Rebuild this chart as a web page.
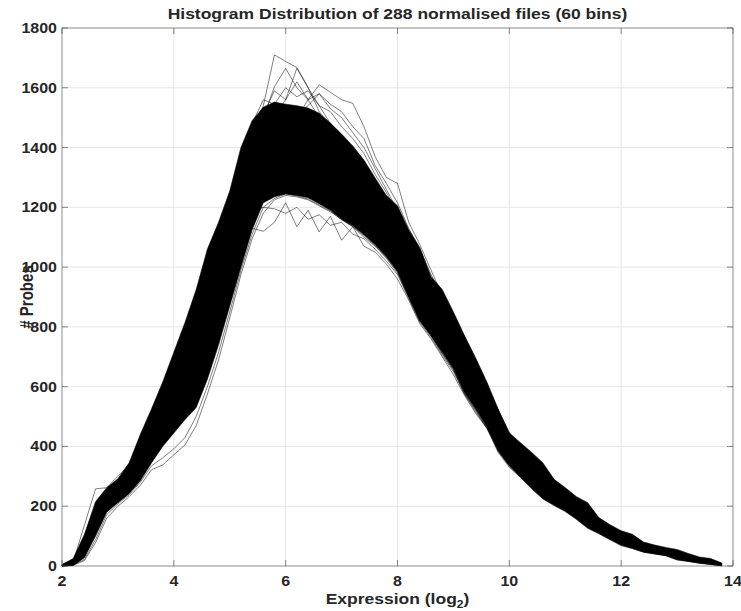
<!DOCTYPE html>
<html>
<head>
<meta charset="utf-8">
<script src="https://cdn.jsdelivr.net/npm/d3@7"></script>
<style>
  body { margin: 0; background: #fff; }
  svg { display: block; }
  text { font-family: "Liberation Sans", Arial, Helvetica, sans-serif; font-weight: bold; fill: #262626; }
</style>
</head>
<body>
<div id="chart"></div>
<script>
const width = 741;
const height = 611;
const margin = { top: 28, right: 8, bottom: 45, left: 62 };

// bin centres (log2 expression), 60 bins
const binCentres = [
  2.0, 2.2, 2.4, 2.6, 2.8, 3.0, 3.2, 3.4, 3.6, 3.8,
  4.0, 4.2, 4.4, 4.6, 4.8, 5.0, 5.2, 5.4, 5.6, 5.8,
  6.0, 6.2, 6.4, 6.6, 6.8, 7.0, 7.2, 7.4, 7.6, 7.8,
  8.0, 8.2, 8.4, 8.6, 8.8, 9.0, 9.2, 9.4, 9.6, 9.8,
  10.0, 10.2, 10.4, 10.6, 10.8, 11.0, 11.2, 11.4, 11.6, 11.8,
  12.0, 12.2, 12.4, 12.6, 12.8, 13.0, 13.2, 13.4, 13.6, 13.8
];

const xTicks = [2, 4, 6, 8, 10, 12, 14];
const yTicks = [0, 200, 400, 600, 800, 1000, 1200, 1400, 1600, 1800];

// dense bundle of the 288 curves: top and bottom edge per bin
const coreUpper = [
  5, 25, 105, 215, 262, 292, 345, 440, 525, 615,
  715, 815, 925, 1060, 1150, 1255, 1400, 1490, 1535, 1552,
  1545, 1540, 1532, 1515, 1482, 1445, 1405, 1358, 1298, 1240,
  1205, 1125, 1065, 968, 925, 850, 770, 695, 615, 525,
  445, 412, 380, 345, 290, 262, 232, 212, 162, 138,
  118, 106, 80, 70, 62, 55, 42, 30, 25, 10
];
const coreLower = [
  0, 2, 28, 100, 180, 212, 242, 285, 345, 400,
  445, 490, 530, 625, 740, 870, 1000, 1125, 1215, 1235,
  1245, 1240, 1232, 1212, 1190, 1160, 1138, 1108, 1075, 1035,
  985, 900, 820, 770, 715, 660, 580, 525, 465, 385,
  335, 298, 260, 226, 204, 184, 158, 128, 110, 90,
  70, 60, 47, 41, 35, 22, 16, 10, 6, 1
];

// single files that stand out of the bundle
const lineHighPeak = [
  0, 15, 80, 190, 240, 270, 310, 380, 460, 540,
  620, 720, 830, 960, 1090, 1210, 1340, 1450, 1540, 1710,
  1688, 1668, 1602, 1520, 1470, 1420, 1370, 1310, 1250, 1190,
  1120, 1040, 960, 880, 810, 740, 670, 600, 530, 465,
  405, 355, 315, 280, 245, 215, 190, 165, 140, 118,
  100, 86, 70, 58, 50, 40, 30, 20, 14, 5
];
const lineSecondPeak = [
  0, 8, 55, 160, 220, 250, 285, 345, 420, 500,
  585, 680, 790, 910, 1030, 1150, 1290, 1420, 1500, 1604,
  1665, 1600, 1560, 1500, 1450, 1400, 1350, 1290, 1230, 1170,
  1100, 1020, 940, 860, 790, 720, 650, 580, 515, 450,
  395, 350, 310, 272, 238, 210, 185, 160, 136, 114,
  96, 82, 66, 56, 48, 38, 28, 18, 12, 4
];
const lineThirdPeak = [
  0, 10, 65, 170, 228, 255, 290, 355, 430, 510,
  595, 690, 800, 925, 1045, 1170, 1300, 1400, 1470, 1510,
  1560, 1665, 1600, 1540, 1480, 1430, 1380, 1320, 1260, 1200,
  1130, 1050, 970, 890, 815, 745, 675, 605, 540, 470,
  410, 360, 320, 285, 250, 220, 194, 168, 142, 120,
  102, 88, 72, 60, 52, 42, 32, 22, 15, 6
];
const lineTopA = [
  0, 12, 75, 185, 236, 266, 305, 372, 452, 532,
  612, 712, 822, 950, 1080, 1200, 1330, 1480, 1560, 1545,
  1600, 1570, 1590, 1540, 1520, 1470, 1430, 1380, 1310, 1250,
  1180, 1100, 1010, 930, 850, 780, 705, 630, 560, 490,
  425, 375, 332, 295, 258, 228, 200, 174, 148, 124,
  106, 92, 75, 63, 55, 45, 35, 25, 18, 7
];
const lineTopB = [
  0, 11, 70, 180, 232, 262, 300, 365, 445, 525,
  605, 705, 815, 940, 1070, 1190, 1320, 1440, 1510, 1590,
  1560, 1620, 1560, 1580, 1530, 1500, 1450, 1400, 1330, 1260,
  1190, 1110, 1030, 945, 865, 790, 712, 640, 568, 498,
  430, 380, 336, 298, 262, 230, 202, 176, 150, 126,
  108, 93, 76, 64, 56, 46, 36, 26, 19, 8
];
const lineShoulder = [
  0, 6, 45, 150, 210, 245, 280, 335, 405, 480,
  565, 660, 765, 885, 1005, 1125, 1260, 1380, 1450, 1475,
  1480, 1500, 1560, 1610, 1585, 1560, 1548, 1470, 1370, 1300,
  1280, 1150, 1075, 990, 905, 820, 740, 665, 590, 515,
  440, 390, 345, 300, 262, 230, 200, 175, 150, 125,
  105, 90, 74, 62, 54, 44, 34, 24, 16, 6
];
const lineShoulder2 = [
  0, 7, 48, 155, 214, 248, 283, 340, 410, 488,
  572, 668, 775, 895, 1015, 1135, 1270, 1390, 1460, 1500,
  1520, 1510, 1540, 1580, 1545, 1520, 1470, 1430, 1340, 1280,
  1215, 1130, 1060, 975, 900, 830, 750, 675, 600, 522,
  446, 398, 352, 306, 268, 236, 206, 180, 154, 130,
  110, 95, 78, 66, 58, 48, 37, 27, 20, 8
];
const lineLowPeak = [
  0, 4, 35, 130, 200, 232, 262, 310, 375, 445,
  520, 600, 690, 800, 915, 1030, 1110, 1130, 1120, 1150,
  1215, 1135, 1190, 1118, 1170, 1090, 1135, 1070, 1050, 1010,
  960, 890, 810, 760, 700, 640, 570, 510, 460, 400,
  345, 305, 268, 234, 208, 186, 160, 132, 112, 92,
  74, 62, 50, 43, 37, 25, 18, 12, 7, 2
];
const lineLowPeak2 = [
  0, 3, 30, 120, 195, 228, 258, 305, 368, 440,
  510, 590, 680, 790, 905, 1020, 1130, 1190, 1200, 1195,
  1180, 1200, 1160, 1175, 1140, 1150, 1110, 1095, 1060, 1020,
  975, 895, 815, 765, 705, 650, 575, 515, 462, 392,
  338, 300, 262, 230, 206, 185, 158, 130, 110, 90,
  72, 61, 48, 42, 36, 23, 17, 11, 6, 1
];
const lineEarlyRise = [
  0, 14, 136, 258, 262, 300, 340, 425, 515, 605,
  700, 800, 905, 1030, 1130, 1240, 1380, 1470, 1510, 1520,
  1500, 1480, 1460, 1440, 1410, 1380, 1340, 1300, 1250, 1190,
  1130, 1060, 980, 900, 830, 760, 690, 620, 550, 480,
  415, 365, 325, 290, 255, 225, 198, 172, 146, 123,
  104, 90, 73, 61, 53, 43, 33, 23, 16, 6
];
const lineLateRise = [
  0, 2, 18, 78, 160, 200, 232, 270, 322, 338,
  372, 405, 470, 575, 690, 830, 975, 1095, 1180, 1225,
  1240, 1235, 1225, 1205, 1185, 1160, 1135, 1100, 1070, 1030,
  980, 900, 820, 770, 710, 655, 575, 520, 460, 380,
  330, 296, 258, 224, 202, 182, 156, 126, 108, 88,
  68, 58, 46, 40, 34, 20, 15, 9, 5, 1
];
const lineLateRise2 = [
  0, 3, 22, 88, 172, 208, 238, 280, 335, 362,
  392, 430, 500, 600, 715, 850, 990, 1110, 1200, 1230,
  1245, 1238, 1228, 1208, 1188, 1158, 1136, 1105, 1072, 1032,
  985, 902, 822, 772, 712, 658, 578, 522, 464, 384,
  334, 297, 260, 226, 204, 184, 157, 128, 109, 89,
  70, 59, 47, 41, 35, 21, 16, 10, 6, 1
];

const singleFiles = [
  lineHighPeak, lineSecondPeak, lineThirdPeak, lineTopA, lineTopB,
  lineShoulder, lineShoulder2, lineLowPeak, lineLowPeak2,
  lineEarlyRise, lineLateRise, lineLateRise2
];

const squash = 0.86; // text in the picture is slightly flattened

const svg = d3
  .select("#chart")
  .append("svg")
  .attr("width", width)
  .attr("height", height);

const x = d3
  .scaleLinear()
  .domain([2, 14])
  .range([margin.left, width - margin.right]);

const y = d3
  .scaleLinear()
  .domain([0, 1800])
  .range([height - margin.bottom, margin.top]);

function addText(px, py, str, size, anchor, rotate) {
  const g = svg
    .append("g")
    .attr(
      "transform",
      `translate(${px},${py}) scale(1,${squash})` + (rotate ? " rotate(-90)" : "")
    );
  return g
    .append("text")
    .attr("text-anchor", anchor)
    .style("font-size", size + "px")
    .text(str);
}

// grid
svg
  .append("g")
  .selectAll("line")
  .data(xTicks.slice(1, -1))
  .enter()
  .append("line")
  .attr("x1", (d) => x(d))
  .attr("x2", (d) => x(d))
  .attr("y1", y(0))
  .attr("y2", y(1800))
  .attr("stroke", "#e6e6e6")
  .attr("stroke-width", 1);

svg
  .append("g")
  .selectAll("line")
  .data(yTicks.slice(1, -1))
  .enter()
  .append("line")
  .attr("x1", x(2))
  .attr("x2", x(14))
  .attr("y1", (d) => y(d))
  .attr("y2", (d) => y(d))
  .attr("stroke", "#e6e6e6")
  .attr("stroke-width", 1);

// dense bundle
const area = d3
  .area()
  .x((d, i) => x(binCentres[i]))
  .y0((d) => y(d[0]))
  .y1((d) => y(d[1]));

svg
  .append("path")
  .datum(coreLower.map((v, i) => [v, coreUpper[i]]))
  .attr("fill", "#000")
  .attr("stroke", "#000")
  .attr("stroke-width", 0.6)
  .attr("stroke-linejoin", "round")
  .attr("d", area);

// single curves
const line = d3
  .line()
  .x((d, i) => x(binCentres[i]))
  .y((d) => y(d));

svg
  .append("g")
  .selectAll("path")
  .data(singleFiles)
  .enter()
  .append("path")
  .attr("fill", "none")
  .attr("stroke", "#000")
  .attr("stroke-width", 0.6)
  .attr("stroke-opacity", 0.85)
  .attr("d", line);

// axes box with inward ticks
const axisColor = "#404040";
svg
  .append("rect")
  .attr("x", x(2))
  .attr("y", y(1800))
  .attr("width", x(14) - x(2))
  .attr("height", y(0) - y(1800))
  .attr("fill", "none")
  .attr("stroke", axisColor)
  .attr("stroke-width", 0.6);

const tickLen = 6;
xTicks.forEach((t) => {
  svg.append("line")
    .attr("x1", x(t)).attr("x2", x(t))
    .attr("y1", y(0)).attr("y2", y(0) - tickLen)
    .attr("stroke", axisColor).attr("stroke-width", 0.6);
  svg.append("line")
    .attr("x1", x(t)).attr("x2", x(t))
    .attr("y1", y(1800)).attr("y2", y(1800) + tickLen)
    .attr("stroke", axisColor).attr("stroke-width", 0.6);
  addText(x(t), y(0) + 20, t, 16, "middle");
});

yTicks.forEach((t) => {
  svg.append("line")
    .attr("x1", x(2)).attr("x2", x(2) + tickLen)
    .attr("y1", y(t)).attr("y2", y(t))
    .attr("stroke", axisColor).attr("stroke-width", 0.6);
  svg.append("line")
    .attr("x1", x(14)).attr("x2", x(14) - tickLen)
    .attr("y1", y(t)).attr("y2", y(t))
    .attr("stroke", axisColor).attr("stroke-width", 0.6);
  addText(x(2) - 5, y(t) + 5, t, 16, "end");
});

// title and labels
addText((x(2) + x(14)) / 2, 19, "Histogram Distribution of 288 normalised files (60 bins)", 17.5, "middle");

const xl = addText((x(2) + x(14)) / 2, 604, "Expression (log", 17.5, "middle");
xl.append("tspan").attr("dy", 5).style("font-size", "12px").text("2");
xl.append("tspan").attr("dy", -5).text(")");

addText(33, (y(0) + y(1800)) / 2, "# Probes", 17.5, "middle", true);
</script>
</body>
</html>
